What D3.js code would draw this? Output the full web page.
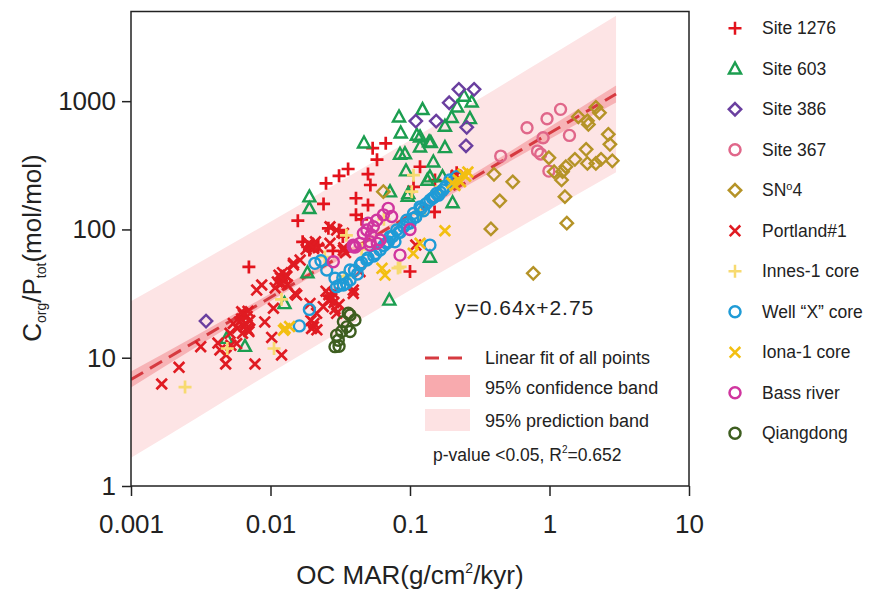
<!DOCTYPE html>
<html><head><meta charset="utf-8">
<script src="https://cdn.jsdelivr.net/npm/d3@7"></script>
<style>
body{margin:0;background:#fff;}
text{font-family:"Liberation Sans",Arial,sans-serif;fill:#222;}
</style>
</head><body>
<svg id="c" width="869" height="590"></svg>
<script>
// ---------- data ----------
const xTicks = [0.001, 0.01, 0.1, 1, 10];
const xTickLabels = ["0.001", "0.01", "0.1", "1", "10"];
const yTicks = [1, 10, 100, 1000];
const yTickLabels = ["1", "10", "100", "1000"];

const fitSlope = 0.64, fitIntercept = 2.75;
const fitRange = [0.001, 3];

const bandX     = [0.001, 0.003, 0.01, 0.03, 0.1, 0.3, 1, 3];
const confLow   = [5.86, 12.3, 27.5, 56.7, 122.7, 241.7, 504, 976];
const confHigh  = [7.80, 15.1, 31.6, 62.5, 135.2, 280.2, 628, 1322];
const predLow   = [1.66, 3.42, 7.59, 15.5, 33.5, 66.9, 141, 279];
const predHigh  = [27.5, 54.3, 114.8, 229, 495, 1012, 2239, 4628];

const site1276 = [[0.054,430],[0.058,350],[0.036,296],[0.031,262],[0.025,229],[0.050,270],[0.052,222],[0.024,158],[0.041,175],[0.0157,117],[0.026,102],[0.031,99],[0.041,130],[0.017,80],[0.067,469],[0.118,308],[0.216,277],[0.1,47],[0.151,243],[0.106,215],[0.007,51],[0.019,69],[0.050,155],[0.15,137],[0.022,75],[0.028,68],[0.012,40],[0.033,88],[0.045,120]];
const site603 = [[0.244,1096],[0.277,989],[0.218,904],[0.123,863],[0.0834,756],[0.199,748],[0.269,734],[0.178,640],[0.0858,567],[0.112,544],[0.118,528],[0.137,483],[0.141,478],[0.118,441],[0.178,436],[0.0848,387],[0.092,390],[0.147,337],[0.0936,287],[0.139,258],[0.171,258],[0.0719,197],[0.0973,191],[0.202,162],[0.139,61],[0.133,243],[0.0963,182],[0.0711,28.2],[0.0468,474],[0.019,180],[0.019,146],[0.0126,26.5],[0.00485,14.2],[0.00656,12.3],[0.0184,46]];
const site386 = [[0.224,1236],[0.288,1236],[0.191,972],[0.110,700],[0.154,700],[0.255,625],[0.252,449],[0.00345,19.3]];
const site367 = [[1.20,863],[0.96,729],[0.69,621],[0.90,519],[1.39,541],[0.82,408],[0.865,387],[0.447,373],[0.99,285]];
const sn4 = [[2.15,895],[2.28,812],[1.61,756],[1.87,703],[1.90,659],[2.64,551],[2.71,461],[1.83,421],[0.99,362],[1.52,352],[1.87,327],[2.15,327],[2.34,352],[2.82,343],[1.31,308],[1.08,282],[1.24,282],[1.22,243],[0.40,269],[0.545,235],[1.29,180],[0.44,167],[1.33,112],[0.38,101],[0.765,45.5],[0.0644,197]];
const portland = [[0.00166,6.24],[0.00221,8.42],[0.00316,12.2],[0.00434,11.5],[0.00477,8.93],[0.00774,8.93],[0.012,10.5],[0.0102,14.4],[0.0091,19],[0.0105,24.3],[0.00638,22.2],[0.00693,16.4],[0.00541,18.5],[0.00513,15.5],[0.00572,12.9],[0.00796,33.7],[0.00865,36.9],[0.0124,40.3],[0.0154,30.8],[0.0146,52.8],[0.0163,57.7],[0.0197,73.3],[0.0267,77.9],[0.0239,25],[0.0267,28.2],[0.0203,17.4],[0.0214,22.2],[0.0392,33.7],[0.0298,98.9],[0.0267,105],[0.0333,93.2],[0.0438,46.8],[0.0392,31.7],[0.0298,22.2],[0.0192,26.5],[0.015,31.7],[0.0146,54.5],[0.00622,22.8],[0.00675,16.9],[0.012,38.2],[0.0197,16.9],[0.0333,69],[0.110,75.5],[0.215,265],[0.0062,20],[0.0068,21],[0.0066,18.5],[0.0071,19.5],[0.0058,17],[0.0063,15.5],[0.0118,42],[0.0128,44],[0.0112,39],[0.0132,37],[0.0122,46],[0.0108,35],[0.019,76],[0.021,80],[0.018,70],[0.022,72],[0.026,28],[0.028,32],[0.031,26],[0.025,33],[0.029,24],[0.0042,13],[0.0048,10.5],[0.0052,12.5],[0.0064,21.5],[0.0069,23],[0.0060,19],[0.0065,17.5],[0.0070,16],[0.0124,41],[0.0119,37.5],[0.0131,43],[0.0115,44],[0.0196,74],[0.0204,71],[0.0188,78],[0.0275,29],[0.0262,31],[0.0285,27],[0.0205,18.5],[0.0215,16.5],[0.0195,19.5],[0.0335,72],[0.0345,66]];
const innes = [[0.00244,5.9],[0.0106,11.8],[0.0049,11.8],[0.012,28.5],[0.035,90],[0.034,43],[0.082,50],[0.085,51],[0.118,133],[0.155,197],[0.103,197],[0.106,265],[0.0245,61],[0.065,120],[0.045,70]];
const wellX = [[0.0208,54.4],[0.019,23.8],[0.0161,17.7],[0.0298,35.8],[0.0333,36.9],[0.0253,48.3],[0.0372,40.3],[0.029,41.6],[0.0314,36.9],[0.0372,48.3],[0.0438,52.8],[0.049,57.7],[0.061,69.1],[0.0719,87.7],[0.0803,98.9],[0.078,80.2],[0.0947,118],[0.106,133],[0.118,150],[0.139,169],[0.155,191],[0.172,203],[0.193,243],[0.216,258],[0.139,75.5],[0.1,112],[0.09,105],[0.085,95],[0.11,125],[0.125,140],[0.145,175],[0.16,185],[0.07,80],[0.065,75],[0.055,62],[0.045,55],[0.04,48],[0.033,42],[0.023,57],[0.05,60],[0.057,65],[0.068,78],[0.075,88],[0.083,95],[0.095,110],[0.105,122],[0.12,145],[0.13,158],[0.15,180],[0.165,195],[0.18,215],[0.2,235],[0.035,38],[0.042,45]];
const iona = [[0.0127,16.9],[0.0137,17.5],[0.178,97.7],[0.0662,44.1],[0.063,49.8],[0.1055,65.1],[0.118,77.9],[0.222,243],[0.23,235],[0.21,220],[0.26,280],[0.25,260],[0.0124,16.4],[0.24,270],[0.2,230]];
const bass = [[0.0698,146],[0.0739,126],[0.0645,130],[0.049,98.9],[0.0546,105],[0.0463,93.2],[0.0517,80.2],[0.061,82.7],[0.1,100],[0.0848,63.1],[0.0392,75.5],[0.0577,118],[0.0282,56],[0.0392,73.3],[0.050,112],[0.0527,90.4],[0.0438,77.9],[0.0405,73],[0.0517,75.5],[0.0583,77.9]];
const qiang = [[0.0372,21.5],[0.0403,19.7],[0.0333,19.1],[0.0352,17.4],[0.0372,16],[0.0324,16],[0.0298,15],[0.0306,13.7],[0.029,12.2],[0.0361,22.2],[0.031,12.3]];

const seriesNames = ["Site 1276","Site 603","Site 386","Site 367","SN°4","Portland#1","Innes-1 core","Well \u201cX\u201d core","Iona-1 core","Bass river","Qiangdong"];
const seriesData = [site1276, site603, site386, site367, sn4, portland, innes, wellX, iona, bass, qiang];
const seriesShape = ["plus","triangle","diamond","circle","diamond","cross","plus","circle","cross","circle","circle"];
const seriesColor = ["#e3131c","#1c9e50","#6a3f9f","#e0678a","#b59327","#e01b22","#f7da70","#1f9bd6","#f3bf12","#d0359f","#3e5e20"];

// ---------- drawing ----------
const svg = d3.select("#c");
const x = d3.scaleLog().domain([0.001, 10]).range([131, 689]);
const y = d3.scaleLog().domain([1, 5000]).range([486, 11.5]);

svg.append("defs").append("clipPath").attr("id","clip")
  .append("rect").attr("x",131).attr("y",11.5).attr("width",558).attr("height",474.5);

const plot = svg.append("g").attr("clip-path","url(#clip)");

const bandRows = bandX.map((v,i)=>({x:v, pl:predLow[i], ph:predHigh[i], cl:confLow[i], ch:confHigh[i]}));
plot.append("path").datum(bandRows)
  .attr("d", d3.area().x(d=>x(d.x)).y0(d=>y(d.pl)).y1(d=>y(d.ph)).curve(d3.curveMonotoneX))
  .attr("fill","#fde4e5");
plot.append("path").datum(bandRows)
  .attr("d", d3.area().x(d=>x(d.x)).y0(d=>y(d.cl)).y1(d=>y(d.ch)).curve(d3.curveMonotoneX))
  .attr("fill","#f7b3b6");
plot.append("path").datum(fitRange)
  .attr("d", d3.line().x(d=>x(d)).y(d=>y(Math.pow(10, fitSlope*Math.log10(d)+fitIntercept))))
  .attr("fill","none").attr("stroke","#d63a40").attr("stroke-width",3).attr("stroke-dasharray","14,8");

function shapePath(s){
  switch(s){
    case "plus": return "M-6.5,0H6.5M0,-6.5V6.5";
    case "cross": return "M-5.3,-5.3L5.3,5.3M-5.3,5.3L5.3,-5.3";
    case "triangle": return "M0,-6.3L6,4.7L-6,4.7Z";
    case "diamond": return "M0,-6.2L6.2,0L0,6.2L-6.2,0Z";
    case "circle": return "M5.5,0A5.5,5.5 0 1,1 -5.5,0A5.5,5.5 0 1,1 5.5,0Z";
  }
}

seriesData.forEach((data, i)=>{
  plot.append("g").selectAll("path").data(data).join("path")
    .attr("transform", d=>`translate(${x(d[0])},${y(d[1])})`)
    .attr("d", shapePath(seriesShape[i]))
    .attr("fill","none").attr("stroke",seriesColor[i])
    .attr("stroke-width", seriesShape[i]==="plus"||seriesShape[i]==="cross" ? 2.7 : 2.4);
});

// frame
svg.append("rect").attr("x",131).attr("y",11.5).attr("width",558).attr("height",474.5)
  .attr("fill","none").attr("stroke","#222").attr("stroke-width",1.5);

// axes
const xa = svg.append("g").attr("transform","translate(0,486)")
  .call(d3.axisBottom(x).tickValues(xTicks).tickSize(10).tickPadding(19)
    .tickFormat((d,i)=>xTickLabels[i]));
const ya = svg.append("g").attr("transform","translate(131,0)")
  .call(d3.axisLeft(y).tickValues(yTicks).tickSize(9).tickPadding(6)
    .tickFormat((d,i)=>yTickLabels[i]));
[xa,ya].forEach(a=>{
  a.select(".domain").remove();
  a.selectAll(".tick line").attr("stroke","#222").attr("stroke-width",1.5);
  a.selectAll(".tick text").attr("font-size",26).attr("fill","#222")
    .attr("font-family","'Liberation Sans',Arial,sans-serif");
});

// axis titles
const xt = svg.append("text").attr("x",410).attr("y",584).attr("text-anchor","middle").attr("font-size",26);
xt.append("tspan").text("OC MAR(g/cm");
xt.append("tspan").attr("font-size",14).attr("dy",-11).text("2");
xt.append("tspan").attr("dy",11).text("/kyr)");

const yt = svg.append("text").attr("transform","translate(41,248) rotate(-90)").attr("text-anchor","middle").attr("font-size",26);
yt.append("tspan").text("C");
yt.append("tspan").attr("font-size",14).attr("dy",5).text("org");
yt.append("tspan").attr("dy",-5).text("/P");
yt.append("tspan").attr("font-size",14).attr("dy",5).text("tot");
yt.append("tspan").attr("dy",-5).text("(mol/mol)");

// equation + inner legend
svg.append("text").attr("x",455).attr("y",315).attr("font-size",21).attr("letter-spacing",1).text("y=0.64x+2.75");
svg.append("line").attr("x1",425).attr("x2",463).attr("y1",358).attr("y2",358)
  .attr("stroke","#d63a40").attr("stroke-width",3).attr("stroke-dasharray","14,9");
svg.append("rect").attr("x",425).attr("y",375).attr("width",45).attr("height",22).attr("fill","#f8aaae");
svg.append("rect").attr("x",425).attr("y",409).attr("width",45).attr("height",22).attr("fill","#fde2e3");
const inner = [["Linear fit of all points",358],["95% confidence band",388],["95% prediction band",421]];
inner.forEach(r=>svg.append("text").attr("x",485).attr("y",r[1]).attr("dy","0.35em").attr("font-size",18).text(r[0]));
const pv = svg.append("text").attr("x",433).attr("y",455).attr("dy","0.35em").attr("font-size",17.5);
pv.append("tspan").text("p-value <0.05, R");
pv.append("tspan").attr("font-size",10).attr("dy",-8).text("2");
pv.append("tspan").attr("dy",8).text("=0.652");

// right legend
const lg = svg.append("g");
seriesNames.forEach((n,i)=>{
  const yy = 28.3 + i*40.5;
  lg.append("path").attr("transform",`translate(735,${yy})`).attr("d",shapePath(seriesShape[i]))
    .attr("fill","none").attr("stroke",seriesColor[i]).attr("stroke-width",2.5);
  const t = lg.append("text").attr("x",762).attr("y",yy).attr("dy","0.35em").attr("font-size",17.5);
  if(n==="SN°4"){ t.append("tspan").text("SN"); t.append("tspan").attr("font-size",11).attr("dy",-6).text("o"); t.append("tspan").attr("dy",6).text("4"); }
  else t.text(n);
});
</script>
</body></html>
